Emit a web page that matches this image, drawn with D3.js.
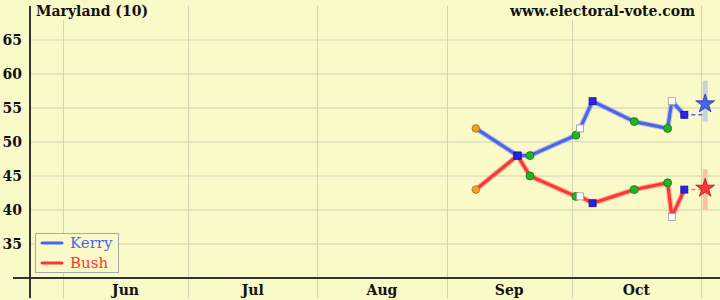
<!DOCTYPE html>
<html><head><meta charset="utf-8">
<script src="https://cdn.jsdelivr.net/npm/d3@7"></script>
<style>body{margin:0;background:#fafac8}svg{display:block}</style>
</head><body><svg id="c" width="720" height="300"></svg>
<script>
const title = "Maryland (10)";
const site = "www.electoral-vote.com";
const yTicks = [35, 40, 45, 50, 55, 60, 65];
const monthStarts = ["2004-06-01","2004-07-01","2004-08-01","2004-09-01","2004-10-01","2004-11-01"];
const monthLabels = ["Jun","Jul","Aug","Sep","Oct"];
const pollDates = ["2004-09-08","2004-09-18","2004-09-21","2004-10-02","2004-10-03","2004-10-06","2004-10-16","2004-10-24","2004-10-25","2004-10-28"];
const pollTypes = ["orange","blue","green","green","white","blue","green","green","white","blue"];
const kerry = [52, 48, 48, 51, 52, 56, 53, 52, 56, 54];
const bush  = [43, 48, 45, 42, 42, 41, 43, 44, 39, 43];
const electionDate = "2004-11-02";
const kerryResult = 55.6, bushResult = 43.2;
const kerryBand = [53, 59], bushBand = [40, 46];
const seriesNames = ["Kerry","Bush"];

const P = d3.timeParse("%Y-%m-%d");
const svg = d3.select("#c");
const x = d3.scaleTime().domain([P("2004-06-01"), P("2004-11-01")]).range([63, 701]);
const y = d3.scaleLinear().domain([30, 70]).range([278, 6]);
const bg = "#fafac8";
const FONT = "DejaVu Serif";
svg.append("rect").attr("width",720).attr("height",300).attr("fill",bg);

const grid = "#d2d2b4";
svg.selectAll(".hg").data(yTicks).enter().append("line")
  .attr("x1",30).attr("x2",720).attr("y1",d=>y(d)).attr("y2",d=>y(d))
  .attr("stroke",grid).attr("stroke-width",1);
svg.selectAll(".vg").data(monthStarts).enter().append("line")
  .attr("x1",d=>Math.round(x(P(d)))+0.5).attr("x2",d=>Math.round(x(P(d)))+0.5)
  .attr("y1",y(70)).attr("y2",298).attr("stroke",grid).attr("stroke-width",1);

const tt = svg.append("text").attr("x",36).attr("y",16).attr("font-family",FONT)
  .attr("font-weight","bold").attr("font-size",14).attr("fill","#111").text(title);
const st = svg.append("text").attr("x",695).attr("y",16).attr("text-anchor","end").attr("font-family",FONT)
  .attr("font-weight","bold").attr("font-size",14).attr("fill","#111").text(site);
[tt, st].forEach(t=>{const b=t.node().getBBox(); svg.insert("rect","text").attr("x",b.x-2).attr("y",0).attr("width",b.width+4).attr("height",b.y+b.height+1).attr("fill",bg);});

svg.append("line").attr("x1",30).attr("x2",30).attr("y1",y(70)).attr("y2",298).attr("stroke","#333").attr("stroke-width",2);
svg.append("line").attr("x1",13).attr("x2",720).attr("y1",278).attr("y2",278).attr("stroke","#333").attr("stroke-width",2);

svg.selectAll(".yt").data(yTicks).enter().append("text")
  .attr("x",22).attr("y",d=>y(d)).attr("dy","0.36em").attr("text-anchor","end")
  .attr("font-family",FONT).attr("font-weight","bold").attr("font-size",14).attr("fill","#111").text(d=>d);
svg.selectAll(".xt").data(monthLabels).enter().append("text")
  .attr("x",(d,i)=>(x(P(monthStarts[i]))+x(P(monthStarts[i+1])))/2).attr("y",295).attr("text-anchor","middle")
  .attr("font-family",FONT).attr("font-weight","bold").attr("font-size",14).attr("fill","#111").text(d=>d);

const eX = x(P(electionDate));
svg.append("rect").attr("x",eX-2.5).attr("width",5).attr("y",y(kerryBand[1])).attr("height",y(kerryBand[0])-y(kerryBand[1])).attr("fill","#c4d2dc");
svg.append("rect").attr("x",eX-2.5).attr("width",5).attr("y",y(bushBand[1])).attr("height",y(bushBand[0])-y(bushBand[1])).attr("fill","#f8c4a4");

const line = d3.line().x(d=>x(d.date)).y(d=>y(d.v));
function series(vals, color, dash){
  const pts = pollDates.map((d,i)=>({date:P(d), v:vals[i], t:pollTypes[i]}));
  svg.append("path").datum(pts).attr("d",line).attr("fill","none").attr("stroke",color).attr("stroke-opacity",0.35).attr("stroke-width",5.5).attr("stroke-linejoin","round");
  svg.append("path").datum(pts).attr("d",line).attr("fill","none").attr("stroke",color).attr("stroke-width",3.2).attr("stroke-linejoin","round");
  const last = pts[pts.length-1];
  svg.append("line").attr("x1",x(last.date)).attr("x2",eX).attr("y1",y(last.v)).attr("y2",y(last.v))
    .attr("stroke",dash).attr("stroke-width",1.5).attr("stroke-dasharray","4,3");
  return pts;
}
const kp = series(kerry, "#4a64f0", "#4a64f0");
const bp = series(bush, "#ff3535", "#ff7070");

function markers(pts){
  pts.forEach(p=>{
    const cx=x(p.date), cy=y(p.v);
    if(p.t==="orange") svg.append("circle").attr("cx",cx).attr("cy",cy).attr("r",3.8).attr("fill","#f0a020").attr("stroke","#b07010").attr("stroke-width",0.8);
    else if(p.t==="green") svg.append("circle").attr("cx",cx).attr("cy",cy).attr("r",4).attr("fill","#22b422").attr("stroke","#117711").attr("stroke-width",0.8);
    else if(p.t==="blue") svg.append("rect").attr("x",cx-3.5).attr("y",cy-3.5).attr("width",7).attr("height",7).attr("fill","#2a22e8").attr("stroke","#1a1090").attr("stroke-width",0.8);
    else svg.append("rect").attr("x",cx-3.5).attr("y",cy-3.5).attr("width",7).attr("height",7).attr("fill","#ffffff").attr("stroke","#999").attr("stroke-width",0.8);
  });
}
markers(kp); markers(bp);

const star = d3.symbol().type(d3.symbolStar).size(110);
svg.append("path").attr("d",star).attr("transform",`translate(${eX},${y(kerryResult)})`).attr("fill","#4a64f0").attr("stroke","#2a3a90").attr("stroke-width",0.8);
svg.append("path").attr("d",star).attr("transform",`translate(${eX},${y(bushResult)})`).attr("fill","#ff3535").attr("stroke","#a02020").attr("stroke-width",0.8);

const lg = svg.append("g");
lg.append("rect").attr("x",35.5).attr("y",233.5).attr("width",83).attr("height",39).attr("fill",bg).attr("stroke","#aaa");
const lcolors = ["#4a64f0","#ff3535"];
seriesNames.forEach((n,i)=>{
  lg.append("line").attr("x1",42).attr("x2",62).attr("y1",243+i*20).attr("y2",243+i*20).attr("stroke",lcolors[i]).attr("stroke-width",3).attr("stroke-linecap","round");
  lg.append("text").attr("x",70).attr("y",248+i*20).attr("font-family",FONT).attr("font-size",15).attr("fill",lcolors[i]).text(n);
});
</script></body></html>
